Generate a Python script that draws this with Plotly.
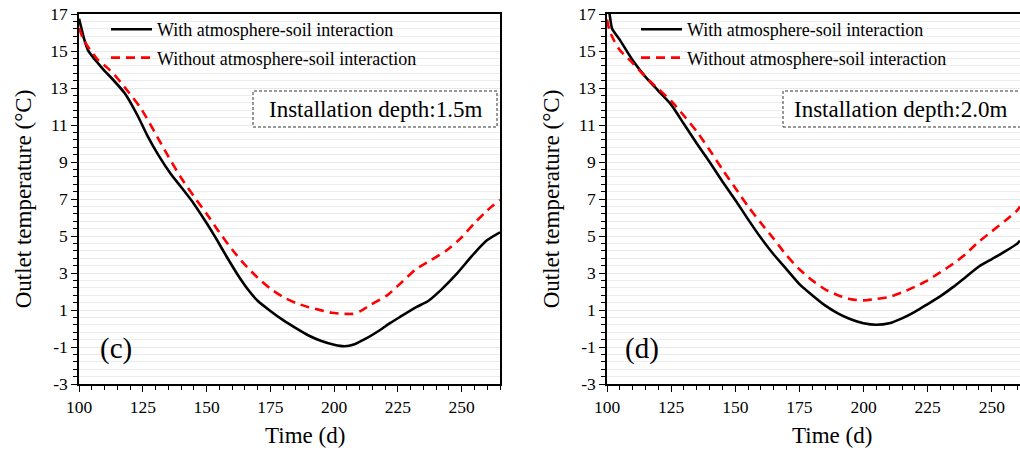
import plotly.graph_objects as go

# ---------------- data ----------------
days_c = [100, 101, 102, 103.5, 105, 107.5, 110, 113, 118, 123, 127, 131, 136, 140, 145, 150, 154, 158, 162, 166, 170,
          175, 180, 185, 190, 195, 200, 204, 208, 212, 218, 222, 226, 232, 237, 242, 248, 255, 260, 265]
with_c = [16.75, 16.2, 15.65, 15.05, 14.75, 14.33, 13.93, 13.5, 12.7, 11.5, 10.37, 9.4, 8.35, 7.65, 6.75, 5.7, 4.8,
          3.85, 2.95, 2.15, 1.5, 0.95, 0.45, 0.02, -0.38, -0.68, -0.88, -0.96, -0.85, -0.58, -0.08, 0.3, 0.64, 1.14,
          1.5, 2.1, 2.95, 4.08, 4.78, 5.2]

days_c2 = [100, 101.5, 103.5, 105, 107.5, 111, 114, 119, 124.5, 131, 135, 140, 145, 150, 155, 160, 165, 170, 175, 180,
           185, 190, 195, 199, 203, 207, 210, 214, 221, 226, 232, 238, 244, 250, 255, 260, 265]
without_c = [16.25, 15.7, 15.23, 14.95, 14.51, 14.1, 13.7, 12.85, 11.85, 10.28, 9.3, 8.15, 7.15, 6.2, 5.2, 4.27, 3.45,
             2.75, 2.15, 1.7, 1.38, 1.15, 0.98, 0.85, 0.8, 0.79, 0.92, 1.25, 1.82, 2.44, 3.2, 3.7, 4.22, 4.93, 5.7,
             6.38, 6.95]

days_d = [100, 101, 102, 105, 110, 115, 120, 125, 130, 135, 140, 145, 150, 155, 160, 165, 170, 175, 180,
          185, 190, 195, 200, 205, 210, 215, 220, 225, 230, 235, 240, 245, 250, 255, 260, 261]
with_d = [17.8, 17.0, 16.2, 15.6, 14.5, 13.6, 12.85, 12.1, 11.05, 10.0, 9.0, 7.95, 6.95, 5.9, 4.9, 4.0, 3.2, 2.4, 1.8,
          1.25, 0.82, 0.5, 0.28, 0.2, 0.28, 0.55, 0.9, 1.32, 1.75, 2.25, 2.8, 3.35, 3.75, 4.15, 4.6, 4.75]

days_d2 = [100, 101, 103, 105, 110, 115, 120, 125, 130, 135, 140, 145, 150, 155, 160, 165, 170, 175, 180,
           185, 190, 195, 200, 205, 210, 215, 220, 225, 230, 235, 240, 245, 250, 255, 260, 261]
without_d = [16.7, 16.1, 15.5, 15.05, 14.35, 13.6, 12.95, 12.3, 11.5, 10.65, 9.65, 8.6, 7.6, 6.6, 5.7, 4.85, 3.95, 3.2,
             2.6, 2.12, 1.8, 1.58, 1.52, 1.6, 1.7, 1.95, 2.25, 2.6, 3.05, 3.5, 4.05, 4.7, 5.25, 5.8, 6.4, 6.6]

series_names = ["With atmosphere-soil interaction", "Without atmosphere-soil interaction"]
panel_labels = ["(c)", "(d)"]
depth_labels = ["Installation depth:1.5m", "Installation depth:2.0m"]
x_title = "Time (d)"
y_title = "Outlet temperature (\u00b0C)"
y_tick_vals = [-3, -1, 1, 3, 5, 7, 9, 11, 13, 15, 17]
y_tick_text = ["-3", "-1", "1", "3", "5", "7", "9", "11", "13", "15", "17"]
x_tick_vals = [100, 125, 150, 175, 200, 225, 250]
x_tick_text = ["100", "125", "150", "175", "200", "225", "250"]

FONT = "Liberation Serif, Times New Roman, serif"

fig = go.Figure()

def add_pair(xw, yw, xo, yo, xa, ya, leg):
    fig.add_trace(go.Scatter(x=xw, y=yw, mode="lines", name=series_names[0],
                             line=dict(color="black", width=2.6, shape="spline", smoothing=0.6),
                             xaxis=xa, yaxis=ya, legend=leg, legendgroup=leg + "a"))
    fig.add_trace(go.Scatter(x=xo, y=yo, mode="lines", name=series_names[1],
                             line=dict(color="#ff0000", width=2.6, dash="9px,6px", shape="spline", smoothing=0.6),
                             xaxis=xa, yaxis=ya, legend=leg, legendgroup=leg + "b"))

add_pair(days_c, with_c, days_c2, without_c, "x", "y", "legend")
add_pair(days_d, with_d, days_d2, without_d, "x2", "y2", "legend2")

W, H = 1020, 450
px = lambda v: v / W
py = lambda v: (384 - v) / 370

tickfont = dict(family=FONT, size=17.5, color="black")
common_x = dict(tickmode="array", tickvals=x_tick_vals, ticktext=x_tick_text, ticks="outside", ticklen=6,
                tickwidth=1.3, tickcolor="black", showline=True, linecolor="black", linewidth=1.5, mirror=True,
                showgrid=False, zeroline=False, tickfont=tickfont, automargin=False,
                minor=dict(tickmode="linear", tick0=100, dtick=5, ticks="outside", ticklen=4,
                           tickcolor="black", tickwidth=1.2))
common_y = dict(range=[-3, 17], tickmode="array", tickvals=y_tick_vals, ticktext=y_tick_text, ticks="outside",
                ticklen=6, tickwidth=1.3, tickcolor="black", showline=True, linecolor="black", linewidth=1.5,
                showgrid=True, gridcolor="#e8e8e8", gridwidth=1, zeroline=False, tickfont=tickfont,
                automargin=False,
                title=dict(text=y_title, font=dict(family=FONT, size=23, color="black"), standoff=12),
                minor=dict(tickmode="linear", tick0=-3, dtick=0.4, ticks="outside", ticklen=4,
                           tickcolor="black", tickwidth=1.2, showgrid=True, gridcolor="#ececec", gridwidth=1))

legfont = dict(family=FONT, size=18, color="black")
leg_common = dict(font=legfont, bgcolor="rgba(0,0,0,0)", itemwidth=41, tracegroupgap=2,
                  yanchor="top", y=1.0 + 3 / 370, xanchor="left", borderwidth=0)

fig.update_layout(
    width=W, height=H, margin=dict(l=0, r=0, t=14, b=66, autoexpand=False),
    paper_bgcolor="white", plot_bgcolor="white",
    font=dict(family=FONT, color="black"),
    xaxis=dict(domain=[px(79), px(500)], range=[100, 265], anchor="y", **common_x),
    yaxis=dict(domain=[0, 1], anchor="x", mirror=True, **common_y),
    xaxis2=dict(domain=[px(607), 1.0], range=[100, 261], anchor="y2", **common_x),
    yaxis2=dict(domain=[0, 1], anchor="x2", mirror=False, **common_y),
    legend=dict(x=px(106), **leg_common),
    legend2=dict(x=px(636), **leg_common),
    showlegend=True,
)

shapes = []
annotations = []
boxes = [(253, 497), (783, 1030)]
for i, (bx0, bx1) in enumerate(boxes):
    shapes.append(dict(type="rect", xref="paper", yref="paper", x0=px(bx0), x1=px(bx1),
                       y0=py(127), y1=py(91), line=dict(color="#333333", width=1, dash="3px,2px"),
                       fillcolor="white", layer="above"))
annotations.append(dict(text=depth_labels[0], xref="paper", yref="paper", x=px(375), y=py(109),
                        xanchor="center", yanchor="middle", showarrow=False,
                        font=dict(family=FONT, size=23, color="black")))
annotations.append(dict(text=depth_labels[1], xref="paper", yref="paper", x=px(792), y=py(109),
                        xanchor="left", yanchor="middle", showarrow=False,
                        font=dict(family=FONT, size=23, color="black")))
for lab, cx in zip(panel_labels, [116, 642]):
    annotations.append(dict(text=lab, xref="paper", yref="paper", x=px(cx), y=py(348),
                            xanchor="center", yanchor="middle", showarrow=False,
                            font=dict(family=FONT, size=29, color="black")))
for cx in [305, 832]:
    annotations.append(dict(text=x_title, xref="paper", yref="paper", x=px(cx), y=py(436),
                            xanchor="center", yanchor="middle", showarrow=False,
                            font=dict(family=FONT, size=23, color="black")))
fig.update_layout(shapes=shapes, annotations=annotations)

fig.write_html("out.html")
